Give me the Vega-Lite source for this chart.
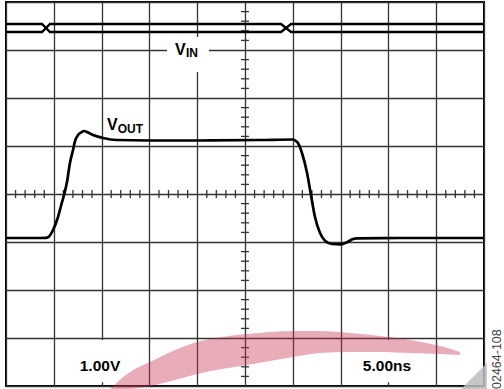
{
  "$schema": "https://vega.github.io/schema/vega-lite/v6.json",
  "width": 478,
  "height": 384,
  "autosize": "none",
  "padding": {"left": 6, "top": 2, "right": 20, "bottom": 3},
  "background": "white",
  "config": {"view": {"stroke": "#000", "strokeWidth": 2}},
  "datasets": {
    "boxes": [
      {"x1": 16.84, "x2": 21.23, "y1": 3.27, "y2": 2.54},
      {"x1": 6.7, "x2": 13.5, "y1": -3.04, "y2": -3.92},
      {"x1": 37.0, "x2": 43.1, "y1": -3.04, "y2": -3.92}
    ],
    "ticksH": [
      {"t": 1, "v": 0}, {"t": 2, "v": 0}, {"t": 3, "v": 0}, {"t": 4, "v": 0},
      {"t": 6, "v": 0}, {"t": 7, "v": 0}, {"t": 8, "v": 0}, {"t": 9, "v": 0},
      {"t": 11, "v": 0}, {"t": 12, "v": 0}, {"t": 13, "v": 0}, {"t": 14, "v": 0},
      {"t": 16, "v": 0}, {"t": 17, "v": 0}, {"t": 18, "v": 0}, {"t": 19, "v": 0},
      {"t": 21, "v": 0}, {"t": 22, "v": 0}, {"t": 23, "v": 0}, {"t": 24, "v": 0},
      {"t": 26, "v": 0}, {"t": 27, "v": 0}, {"t": 28, "v": 0}, {"t": 29, "v": 0},
      {"t": 31, "v": 0}, {"t": 32, "v": 0}, {"t": 33, "v": 0}, {"t": 34, "v": 0},
      {"t": 36, "v": 0}, {"t": 37, "v": 0}, {"t": 38, "v": 0}, {"t": 39, "v": 0},
      {"t": 41, "v": 0}, {"t": 42, "v": 0}, {"t": 43, "v": 0}, {"t": 44, "v": 0},
      {"t": 46, "v": 0}, {"t": 47, "v": 0}, {"t": 48, "v": 0}, {"t": 49, "v": 0}
    ],
    "ticksV": [
      {"t": 25, "v": -3.8}, {"t": 25, "v": -3.6}, {"t": 25, "v": -3.4}, {"t": 25, "v": -3.2},
      {"t": 25, "v": -2.8}, {"t": 25, "v": -2.6}, {"t": 25, "v": -2.4}, {"t": 25, "v": -2.2},
      {"t": 25, "v": -1.8}, {"t": 25, "v": -1.6}, {"t": 25, "v": -1.4}, {"t": 25, "v": -1.2},
      {"t": 25, "v": -0.8}, {"t": 25, "v": -0.6}, {"t": 25, "v": -0.4}, {"t": 25, "v": -0.2},
      {"t": 25, "v": 0.2}, {"t": 25, "v": 0.4}, {"t": 25, "v": 0.6}, {"t": 25, "v": 0.8},
      {"t": 25, "v": 1.2}, {"t": 25, "v": 1.4}, {"t": 25, "v": 1.6}, {"t": 25, "v": 1.8},
      {"t": 25, "v": 2.2}, {"t": 25, "v": 2.4}, {"t": 25, "v": 2.6}, {"t": 25, "v": 2.8},
      {"t": 25, "v": 3.2}, {"t": 25, "v": 3.4}, {"t": 25, "v": 3.6}, {"t": 25, "v": 3.8}
    ],
    "band": [
      {"t": 10.88, "top": -4.06, "bot": -4.06},
      {"t": 12.97, "top": -3.71, "bot": -4.06},
      {"t": 15.06, "top": -3.5, "bot": -4.0},
      {"t": 17.68, "top": -3.25, "bot": -3.875},
      {"t": 19.98, "top": -3.083, "bot": -3.75},
      {"t": 22.59, "top": -2.979, "bot": -3.646},
      {"t": 25.21, "top": -2.917, "bot": -3.563},
      {"t": 27.62, "top": -2.875, "bot": -3.479},
      {"t": 30.02, "top": -2.854, "bot": -3.396},
      {"t": 32.85, "top": -2.854, "bot": -3.313},
      {"t": 35.98, "top": -2.896, "bot": -3.292},
      {"t": 39.12, "top": -2.958, "bot": -3.292},
      {"t": 42.26, "top": -3.042, "bot": -3.313},
      {"t": 45.4, "top": -3.167, "bot": -3.333},
      {"t": 47.49, "top": -3.292, "bot": -3.354}
    ],
    "corner": [
      {"t": 47.6, "top": -4.06, "bot": -4.06},
      {"t": 50.31, "top": -3.52, "bot": -4.06}
    ],
    "vin": [
      {"s": "A", "t": 0, "v": 3.542}, {"s": "A", "t": 3.77, "v": 3.542}, {"s": "A", "t": 4.6, "v": 3.375},
      {"s": "A", "t": 28.77, "v": 3.375}, {"s": "A", "t": 29.81, "v": 3.542}, {"s": "A", "t": 50, "v": 3.542},
      {"s": "B", "t": 0, "v": 3.375}, {"s": "B", "t": 3.77, "v": 3.375}, {"s": "B", "t": 4.6, "v": 3.542},
      {"s": "B", "t": 28.77, "v": 3.542}, {"s": "B", "t": 29.81, "v": 3.375}, {"s": "B", "t": 50, "v": 3.375}
    ],
    "vout": [
      {"t": 0, "v": -0.917}, {"t": 3.56, "v": -0.917}, {"t": 4.18, "v": -0.915},
      {"t": 4.5, "v": -0.885}, {"t": 4.92, "v": -0.75}, {"t": 5.44, "v": -0.479},
      {"t": 5.75, "v": -0.25}, {"t": 6.07, "v": -0.02}, {"t": 6.38, "v": 0.25},
      {"t": 6.69, "v": 0.646}, {"t": 7.01, "v": 0.917}, {"t": 7.22, "v": 1.1},
      {"t": 7.53, "v": 1.229}, {"t": 7.85, "v": 1.281}, {"t": 8.16, "v": 1.3125},
      {"t": 8.58, "v": 1.281}, {"t": 9.1, "v": 1.229}, {"t": 10.15, "v": 1.167},
      {"t": 11.61, "v": 1.125}, {"t": 15.06, "v": 1.115}, {"t": 20.29, "v": 1.115},
      {"t": 26.57, "v": 1.125}, {"t": 30.02, "v": 1.135}, {"t": 30.33, "v": 1.104},
      {"t": 30.54, "v": 1.0625}, {"t": 30.96, "v": 0.854}, {"t": 31.49, "v": 0.4375},
      {"t": 31.9, "v": -0.02}, {"t": 32.32, "v": -0.479}, {"t": 32.85, "v": -0.8125},
      {"t": 33.37, "v": -0.973}, {"t": 34.1, "v": -1.042}, {"t": 34.94, "v": -1.048},
      {"t": 35.77, "v": -0.994}, {"t": 36.3, "v": -0.9375}, {"t": 36.72, "v": -0.923},
      {"t": 41.21, "v": -0.917}, {"t": 50, "v": -0.917}
    ],
    "labels": [
      {"kind": "name", "t": 17.68, "v": 2.906, "text": "V"},
      {"kind": "sub", "t": 18.83, "v": 2.844, "text": "IN"},
      {"kind": "name", "t": 10.56, "v": 1.333, "text": "V"},
      {"kind": "sub", "t": 11.68, "v": 1.265, "text": "OUT"},
      {"kind": "scale", "t": 9.83, "v": -3.58, "text": "1.00V"},
      {"kind": "scale", "t": 39.85, "v": -3.58, "text": "5.00ns"},
      {"kind": "code", "t": 51.41, "v": -3.44, "text": "02464-108"}
    ]
  },
  "layer": [
    {
      "data": {"name": "boxes"},
      "mark": {"type": "rect", "fill": "white", "stroke": null},
      "encoding": {
        "x": {"field": "x1", "type": "quantitative",
          "scale": {"domain": [0, 50], "nice": false, "zero": false},
          "axis": {"values": [0, 5, 10, 15, 20, 25, 30, 35, 40, 45, 50], "grid": true, "gridColor": "#333", "gridWidth": 1.3, "gridOpacity": 1, "labels": false, "ticks": false, "domain": false, "title": null}},
        "x2": {"field": "x2"},
        "y": {"field": "y1", "type": "quantitative",
          "scale": {"domain": [-4, 4], "nice": false, "zero": false},
          "axis": {"values": [-4, -3, -2, -1, 0, 1, 2, 3, 4], "grid": true, "gridColor": "#333", "gridWidth": 1.3, "gridOpacity": 1, "labels": false, "ticks": false, "domain": false, "title": null}},
        "y2": {"field": "y2"}
      }
    },
    {
      "data": {"name": "ticksH"},
      "mark": {"type": "tick", "orient": "vertical", "size": 8, "thickness": 1.3, "color": "#333", "opacity": 1},
      "encoding": {
        "x": {"field": "t", "type": "quantitative", "axis": {"title": null}},
        "y": {"field": "v", "type": "quantitative", "axis": {"title": null}}
      }
    },
    {
      "data": {"name": "ticksV"},
      "mark": {"type": "tick", "orient": "horizontal", "size": 8, "thickness": 1.3, "color": "#333", "opacity": 1},
      "encoding": {
        "x": {"field": "t", "type": "quantitative", "axis": {"title": null}},
        "y": {"field": "v", "type": "quantitative", "axis": {"title": null}}
      }
    },
    {
      "data": {"name": "corner"},
      "mark": {"type": "area", "color": "#bdbdbd", "opacity": 0.85},
      "encoding": {
        "x": {"field": "t", "type": "quantitative", "axis": {"title": null}},
        "y": {"field": "top", "type": "quantitative", "axis": {"title": null}},
        "y2": {"field": "bot"}
      }
    },
    {
      "data": {"name": "band"},
      "mark": {"type": "area", "color": "#c8304f", "opacity": 0.4, "interpolate": "monotone"},
      "encoding": {
        "x": {"field": "t", "type": "quantitative", "axis": {"title": null}},
        "y": {"field": "top", "type": "quantitative", "axis": {"title": null}},
        "y2": {"field": "bot"}
      }
    },
    {
      "data": {"name": "vin"},
      "mark": {"type": "line", "color": "#000", "strokeWidth": 2.3},
      "encoding": {
        "x": {"field": "t", "type": "quantitative", "axis": {"title": null}},
        "y": {"field": "v", "type": "quantitative", "axis": {"title": null}},
        "detail": {"field": "s"}
      }
    },
    {
      "data": {"name": "vout"},
      "mark": {"type": "line", "color": "#000", "strokeWidth": 2.7, "interpolate": "monotone"},
      "encoding": {
        "x": {"field": "t", "type": "quantitative", "axis": {"title": null}},
        "y": {"field": "v", "type": "quantitative", "axis": {"title": null}}
      }
    },
    {
      "data": {"name": "labels"},
      "transform": [{"filter": "datum.kind === 'name'"}],
      "mark": {"type": "text", "align": "left", "baseline": "alphabetic", "font": "Liberation Sans", "fontWeight": "bold", "fontSize": 16, "color": "#000"},
      "encoding": {
        "x": {"field": "t", "type": "quantitative", "axis": {"title": null}},
        "y": {"field": "v", "type": "quantitative", "axis": {"title": null}},
        "text": {"field": "text"}
      }
    },
    {
      "data": {"name": "labels"},
      "transform": [{"filter": "datum.kind === 'sub'"}],
      "mark": {"type": "text", "align": "left", "baseline": "alphabetic", "font": "Liberation Sans", "fontWeight": "bold", "fontSize": 12, "color": "#000"},
      "encoding": {
        "x": {"field": "t", "type": "quantitative", "axis": {"title": null}},
        "y": {"field": "v", "type": "quantitative", "axis": {"title": null}},
        "text": {"field": "text"}
      }
    },
    {
      "data": {"name": "labels"},
      "transform": [{"filter": "datum.kind === 'scale'"}],
      "mark": {"type": "text", "align": "center", "baseline": "middle", "font": "Liberation Sans", "fontWeight": "bold", "fontSize": 15.5, "color": "#000"},
      "encoding": {
        "x": {"field": "t", "type": "quantitative", "axis": {"title": null}},
        "y": {"field": "v", "type": "quantitative", "axis": {"title": null}},
        "text": {"field": "text"}
      }
    },
    {
      "data": {"name": "labels"},
      "transform": [{"filter": "datum.kind === 'code'"}],
      "mark": {"type": "text", "align": "center", "baseline": "middle", "angle": 270, "font": "Liberation Sans", "fontSize": 12.5, "color": "#444"},
      "encoding": {
        "x": {"field": "t", "type": "quantitative", "axis": {"title": null}},
        "y": {"field": "v", "type": "quantitative", "axis": {"title": null}},
        "text": {"field": "text"}
      }
    }
  ]
}
